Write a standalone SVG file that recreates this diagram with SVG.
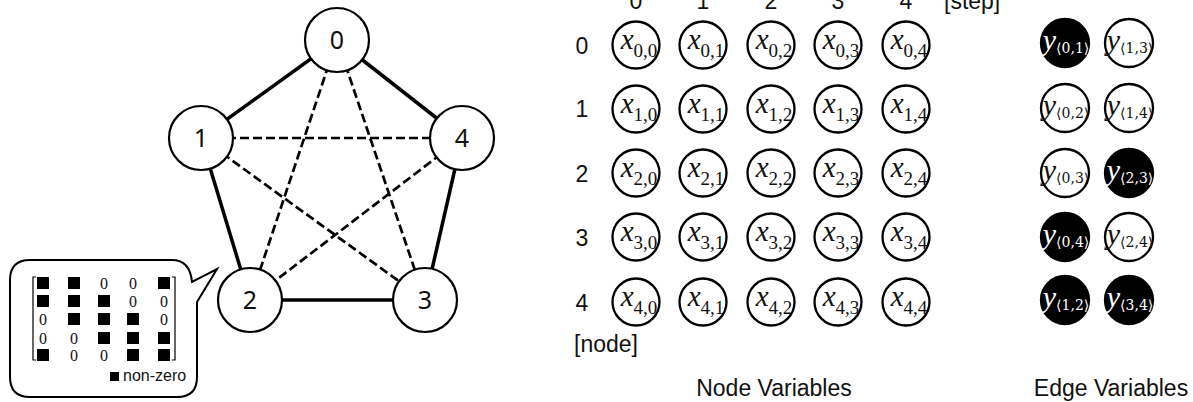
<svg xmlns="http://www.w3.org/2000/svg" width="1193" height="402" viewBox="0 0 1193 402">
<style>
.bg{fill:#fff}
.gn{fill:#fff;stroke:#000;stroke-width:2.2}
.gt{font-family:"Noto Sans","DejaVu Sans",sans-serif;font-size:25px;text-anchor:middle;fill:#111}
.solid{stroke:#000;stroke-width:3.5;fill:none}
.dash{stroke:#000;stroke-width:2.7;stroke-dasharray:9 4;fill:none}
.vc{fill:#fff;stroke:#000;stroke-width:2.3}
.vb{fill:#000;stroke:#000;stroke-width:2.3}
.lab{font-family:"Liberation Sans",Arial,sans-serif;font-size:23px;fill:#111}
.mx{font-family:"Liberation Serif","DejaVu Serif",serif;text-anchor:middle;fill:#111}
.mv{font-style:italic;font-size:29px}
.ms{font-size:19px}
.ey{font-family:"Liberation Serif","DejaVu Serif",serif;text-anchor:middle}
.eyv{font-style:italic;font-size:30px}
.eys{font-family:"DejaVu Serif",serif;font-size:14px}
.w{fill:#fff}
.k{fill:#111}
.sq{fill:#000}
.z{font-family:"Liberation Serif",serif;font-size:16px;text-anchor:middle;fill:#111}
.br{stroke:#000;stroke-width:1.2;fill:none}
</style>
<rect class="bg" x="0" y="0" width="1193" height="402"/>

<g id="connectors">
  <line class="solid" x1="337" y1="40" x2="201" y2="138"/>
  <line class="solid" x1="337" y1="40" x2="462" y2="138"/>
  <line class="solid" x1="201" y1="138" x2="250" y2="300"/>
  <line class="solid" x1="462" y1="138" x2="425" y2="300"/>
  <line class="solid" x1="250" y1="300" x2="425" y2="300"/>
  <line class="dash" x1="337" y1="40" x2="250" y2="300"/>
  <line class="dash" x1="337" y1="40" x2="425" y2="300"/>
  <line class="dash" x1="201" y1="138" x2="462" y2="138"/>
  <line class="dash" x1="201" y1="138" x2="425" y2="300"/>
  <line class="dash" x1="462" y1="138" x2="250" y2="300"/>
</g>

<g id="node0"><circle class="gn" cx="337" cy="40" r="32"/><text class="gt" x="337" y="49">0</text></g>
<g id="node1"><circle class="gn" cx="201" cy="138" r="32"/><text class="gt" x="201" y="147">1</text></g>
<g id="node4"><circle class="gn" cx="462" cy="138" r="32"/><text class="gt" x="462" y="147">4</text></g>
<g id="node2"><circle class="gn" cx="250" cy="300" r="32"/><text class="gt" x="250" y="309">2</text></g>
<g id="node3"><circle class="gn" cx="425" cy="300" r="32"/><text class="gt" x="425" y="309">3</text></g>

<g id="callout">
  <path d="M30 260 H172 Q190 260 192 282 L217 269 L197 302 V377 Q197 397 177 397 H30 Q10 397 10 377 V280 Q10 260 30 260 Z" fill="#fff" stroke="#000" stroke-width="2"/>
  <path class="br" d="M36 277 H33 V360 H36"/>
  <path class="br" d="M172 277 H175 V360 H172"/>
  <rect class="sq" x="37" y="277" width="12" height="12"/>
  <rect class="sq" x="68" y="277" width="12" height="12"/>
  <text class="z" x="104" y="289">0</text>
  <text class="z" x="133" y="289">0</text>
  <rect class="sq" x="158" y="277" width="12" height="12"/>
  <rect class="sq" x="37" y="295" width="12" height="12"/>
  <rect class="sq" x="68" y="295" width="12" height="12"/>
  <rect class="sq" x="98" y="295" width="12" height="12"/>
  <text class="z" x="133" y="307">0</text>
  <text class="z" x="164" y="307">0</text>
  <text class="z" x="43" y="325">0</text>
  <rect class="sq" x="68" y="313" width="12" height="12"/>
  <rect class="sq" x="98" y="313" width="12" height="12"/>
  <rect class="sq" x="127" y="313" width="12" height="12"/>
  <text class="z" x="164" y="325">0</text>
  <text class="z" x="43" y="344">0</text>
  <text class="z" x="74" y="344">0</text>
  <rect class="sq" x="98" y="332" width="12" height="12"/>
  <rect class="sq" x="127" y="332" width="12" height="12"/>
  <rect class="sq" x="158" y="332" width="12" height="12"/>
  <rect class="sq" x="37" y="349" width="12" height="12"/>
  <text class="z" x="74" y="361">0</text>
  <text class="z" x="104" y="361">0</text>
  <rect class="sq" x="127" y="349" width="12" height="12"/>
  <rect class="sq" x="158" y="349" width="12" height="12"/>
  <rect class="sq" x="110" y="372" width="9" height="9"/>
  <text x="123" y="381" font-family="Liberation Sans, Arial, sans-serif" font-size="16" fill="#111">non-zero</text>
</g>

<g id="axis-labels">
  <text class="lab" x="636" y="9" text-anchor="middle">0</text>
  <text class="lab" x="703" y="9" text-anchor="middle">1</text>
  <text class="lab" x="771" y="9" text-anchor="middle">2</text>
  <text class="lab" x="838" y="9" text-anchor="middle">3</text>
  <text class="lab" x="906" y="9" text-anchor="middle">4</text>
  <text class="lab" x="944" y="9">[step]</text>
  <text class="lab" x="582" y="54" text-anchor="middle">0</text>
  <text class="lab" x="582" y="117" text-anchor="middle">1</text>
  <text class="lab" x="582" y="182" text-anchor="middle">2</text>
  <text class="lab" x="582" y="246" text-anchor="middle">3</text>
  <text class="lab" x="582" y="311" text-anchor="middle">4</text>
  <text class="lab" x="574" y="352">[node]</text>
  <text class="lab" x="774" y="396" text-anchor="middle">Node Variables</text>
  <text class="lab" x="1111" y="396" text-anchor="middle">Edge Variables</text>
</g>

<g id="node-variables">
  <g id="x00"><circle class="vc" cx="636" cy="45" r="23.5"/><text class="mx" x="639" y="49"><tspan class="mv">x</tspan><tspan class="ms" dy="8">0,0</tspan></text></g>
  <g id="x01"><circle class="vc" cx="703" cy="45" r="23.5"/><text class="mx" x="706" y="49"><tspan class="mv">x</tspan><tspan class="ms" dy="8">0,1</tspan></text></g>
  <g id="x02"><circle class="vc" cx="771" cy="45" r="23.5"/><text class="mx" x="774" y="49"><tspan class="mv">x</tspan><tspan class="ms" dy="8">0,2</tspan></text></g>
  <g id="x03"><circle class="vc" cx="838" cy="45" r="23.5"/><text class="mx" x="841" y="49"><tspan class="mv">x</tspan><tspan class="ms" dy="8">0,3</tspan></text></g>
  <g id="x04"><circle class="vc" cx="906" cy="45" r="23.5"/><text class="mx" x="909" y="49"><tspan class="mv">x</tspan><tspan class="ms" dy="8">0,4</tspan></text></g>

  <g id="x10"><circle class="vc" cx="636" cy="109" r="23.5"/><text class="mx" x="639" y="113"><tspan class="mv">x</tspan><tspan class="ms" dy="8">1,0</tspan></text></g>
  <g id="x11"><circle class="vc" cx="703" cy="109" r="23.5"/><text class="mx" x="706" y="113"><tspan class="mv">x</tspan><tspan class="ms" dy="8">1,1</tspan></text></g>
  <g id="x12"><circle class="vc" cx="771" cy="109" r="23.5"/><text class="mx" x="774" y="113"><tspan class="mv">x</tspan><tspan class="ms" dy="8">1,2</tspan></text></g>
  <g id="x13"><circle class="vc" cx="838" cy="109" r="23.5"/><text class="mx" x="841" y="113"><tspan class="mv">x</tspan><tspan class="ms" dy="8">1,3</tspan></text></g>
  <g id="x14"><circle class="vc" cx="906" cy="109" r="23.5"/><text class="mx" x="909" y="113"><tspan class="mv">x</tspan><tspan class="ms" dy="8">1,4</tspan></text></g>

  <g id="x20"><circle class="vc" cx="636" cy="173" r="23.5"/><text class="mx" x="639" y="177"><tspan class="mv">x</tspan><tspan class="ms" dy="8">2,0</tspan></text></g>
  <g id="x21"><circle class="vc" cx="703" cy="173" r="23.5"/><text class="mx" x="706" y="177"><tspan class="mv">x</tspan><tspan class="ms" dy="8">2,1</tspan></text></g>
  <g id="x22"><circle class="vc" cx="771" cy="173" r="23.5"/><text class="mx" x="774" y="177"><tspan class="mv">x</tspan><tspan class="ms" dy="8">2,2</tspan></text></g>
  <g id="x23"><circle class="vc" cx="838" cy="173" r="23.5"/><text class="mx" x="841" y="177"><tspan class="mv">x</tspan><tspan class="ms" dy="8">2,3</tspan></text></g>
  <g id="x24"><circle class="vc" cx="906" cy="173" r="23.5"/><text class="mx" x="909" y="177"><tspan class="mv">x</tspan><tspan class="ms" dy="8">2,4</tspan></text></g>

  <g id="x30"><circle class="vc" cx="636" cy="237" r="23.5"/><text class="mx" x="639" y="241"><tspan class="mv">x</tspan><tspan class="ms" dy="8">3,0</tspan></text></g>
  <g id="x31"><circle class="vc" cx="703" cy="237" r="23.5"/><text class="mx" x="706" y="241"><tspan class="mv">x</tspan><tspan class="ms" dy="8">3,1</tspan></text></g>
  <g id="x32"><circle class="vc" cx="771" cy="237" r="23.5"/><text class="mx" x="774" y="241"><tspan class="mv">x</tspan><tspan class="ms" dy="8">3,2</tspan></text></g>
  <g id="x33"><circle class="vc" cx="838" cy="237" r="23.5"/><text class="mx" x="841" y="241"><tspan class="mv">x</tspan><tspan class="ms" dy="8">3,3</tspan></text></g>
  <g id="x34"><circle class="vc" cx="906" cy="237" r="23.5"/><text class="mx" x="909" y="241"><tspan class="mv">x</tspan><tspan class="ms" dy="8">3,4</tspan></text></g>

  <g id="x40"><circle class="vc" cx="636" cy="302" r="23.5"/><text class="mx" x="639" y="306"><tspan class="mv">x</tspan><tspan class="ms" dy="8">4,0</tspan></text></g>
  <g id="x41"><circle class="vc" cx="703" cy="302" r="23.5"/><text class="mx" x="706" y="306"><tspan class="mv">x</tspan><tspan class="ms" dy="8">4,1</tspan></text></g>
  <g id="x42"><circle class="vc" cx="771" cy="302" r="23.5"/><text class="mx" x="774" y="306"><tspan class="mv">x</tspan><tspan class="ms" dy="8">4,2</tspan></text></g>
  <g id="x43"><circle class="vc" cx="838" cy="302" r="23.5"/><text class="mx" x="841" y="306"><tspan class="mv">x</tspan><tspan class="ms" dy="8">4,3</tspan></text></g>
  <g id="x44"><circle class="vc" cx="906" cy="302" r="23.5"/><text class="mx" x="909" y="306"><tspan class="mv">x</tspan><tspan class="ms" dy="8">4,4</tspan></text></g>
</g>

<g id="edge-variables">
  <g id="y01"><circle class="vb" cx="1065" cy="43" r="24"/><text class="ey w" x="1066" y="50"><tspan class="eyv">y</tspan><tspan class="eys" dy="3">⟨0,1⟩</tspan></text></g>
  <g id="y13"><circle class="vc" cx="1129" cy="43" r="24"/><text class="ey k" x="1130" y="50"><tspan class="eyv">y</tspan><tspan class="eys" dy="3">⟨1,3⟩</tspan></text></g>
  <g id="y02"><circle class="vc" cx="1065" cy="108" r="24"/><text class="ey k" x="1066" y="115"><tspan class="eyv">y</tspan><tspan class="eys" dy="3">⟨0,2⟩</tspan></text></g>
  <g id="y14"><circle class="vc" cx="1129" cy="108" r="24"/><text class="ey k" x="1130" y="115"><tspan class="eyv">y</tspan><tspan class="eys" dy="3">⟨1,4⟩</tspan></text></g>
  <g id="y03"><circle class="vc" cx="1065" cy="173" r="24"/><text class="ey k" x="1066" y="180"><tspan class="eyv">y</tspan><tspan class="eys" dy="3">⟨0,3⟩</tspan></text></g>
  <g id="y23"><circle class="vb" cx="1129" cy="173" r="24"/><text class="ey w" x="1130" y="180"><tspan class="eyv">y</tspan><tspan class="eys" dy="3">⟨2,3⟩</tspan></text></g>
  <g id="y04"><circle class="vb" cx="1065" cy="237" r="24"/><text class="ey w" x="1066" y="244"><tspan class="eyv">y</tspan><tspan class="eys" dy="3">⟨0,4⟩</tspan></text></g>
  <g id="y24"><circle class="vc" cx="1129" cy="237" r="24"/><text class="ey k" x="1130" y="244"><tspan class="eyv">y</tspan><tspan class="eys" dy="3">⟨2,4⟩</tspan></text></g>
  <g id="y12"><circle class="vb" cx="1065" cy="300" r="24"/><text class="ey w" x="1066" y="307"><tspan class="eyv">y</tspan><tspan class="eys" dy="3">⟨1,2⟩</tspan></text></g>
  <g id="y34"><circle class="vb" cx="1129" cy="300" r="24"/><text class="ey w" x="1130" y="307"><tspan class="eyv">y</tspan><tspan class="eys" dy="3">⟨3,4⟩</tspan></text></g>
</g>
</svg>
